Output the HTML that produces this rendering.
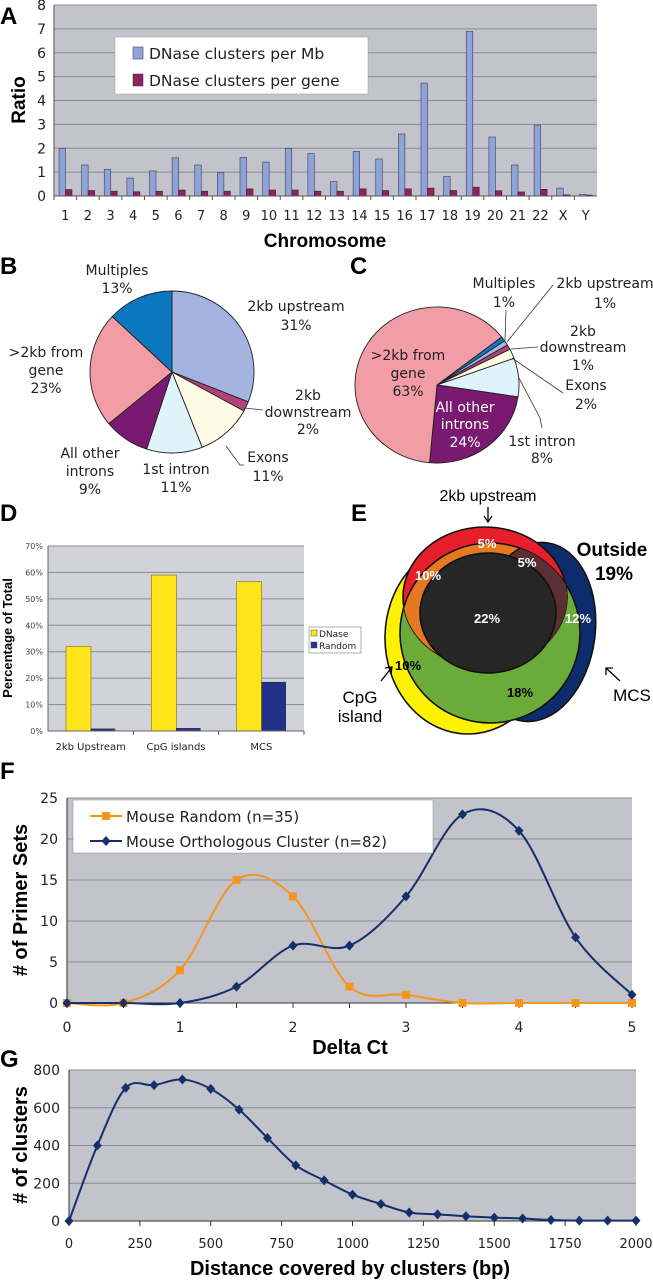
<!DOCTYPE html>
<html><head><meta charset="utf-8">
<style>
html,body{margin:0;padding:0;background:#fff;}
svg{display:block;font-family:"DejaVu Sans","Liberation Sans",sans-serif;}
.pl{font-family:"Liberation Sans",sans-serif;font-weight:bold;font-size:24px;fill:#000;}
.tk{font-size:12px;fill:#222;}
.lab{font-size:14px;fill:#222;}
.ax{font-family:"Liberation Sans",sans-serif;font-weight:bold;fill:#000;}
</style></head>
<body>
<svg id="fig" width="653" height="1280" viewBox="0 0 653 1280" xmlns="http://www.w3.org/2000/svg">
<text class="pl" x="0" y="24">A</text>
<text class="pl" x="0" y="274">B</text>
<text class="pl" x="350" y="274">C</text>
<text class="pl" x="0" y="521">D</text>
<text class="pl" x="351" y="521">E</text>
<text class="pl" x="0" y="779">F</text>
<text class="pl" x="0" y="1067">G</text>

<g id="gA">
<rect x="54" y="5" width="543" height="191" fill="#c3c3cb"/>
</g>
<text class="ax" x="0" y="0" font-size="19" text-anchor="middle" transform="translate(25,100) rotate(-90)">Ratio</text>
<text class="ax" x="325" y="247" font-size="19" text-anchor="middle">Chromosome</text>
<g>
<rect x="115" y="37" width="253" height="57" fill="#fff" stroke="#999" stroke-width="0.5"/>
<rect x="133" y="47" width="10" height="12" fill="#8fa3d6" stroke="#445" stroke-width="0.6"/>
<text x="149" y="59" font-size="15.5" fill="#222">DNase clusters per Mb</text>
<rect x="133" y="74" width="10" height="12" fill="#92215f" stroke="#445" stroke-width="0.6"/>
<text x="149" y="86" font-size="15.5" fill="#222">DNase clusters per gene</text>
</g>

<g id="gB"></g>
<g class="lab" text-anchor="middle">
<text x="117" y="275">Multiples</text>
<text x="117" y="293">13%</text>
<text x="296" y="311">2kb upstream</text>
<text x="296" y="330">31%</text>
<text x="46" y="357">&gt;2kb from</text>
<text x="46" y="375">gene</text>
<text x="46" y="393">23%</text>
<text x="308" y="400">2kb</text>
<text x="308" y="417">downstream</text>
<text x="308" y="434">2%</text>
<text x="268" y="462">Exons</text>
<text x="268" y="481">11%</text>
<text x="176" y="474">1st intron</text>
<text x="176" y="492">11%</text>
<text x="90" y="458">All other</text>
<text x="90" y="476">introns</text>
<text x="90" y="494">9%</text>
</g>
<g stroke="#333" stroke-width="0.8" fill="none">
<path d="M244,408 L263,410"/>
<path d="M226,446 L240,465 L244,465"/>
</g>

<g id="gC"></g>
<g class="lab" text-anchor="middle">
<text x="504" y="288">Multiples</text>
<text x="504" y="307">1%</text>
<text x="605" y="288">2kb upstream</text>
<text x="605" y="308">1%</text>
<text x="583" y="336">2kb</text>
<text x="583" y="352">downstream</text>
<text x="583" y="370">1%</text>
<text x="586" y="390">Exons</text>
<text x="586" y="409">2%</text>
<text x="542" y="446">1st intron</text>
<text x="542" y="463">8%</text>
<text x="408" y="360">&gt;2kb from</text>
<text x="408" y="378">gene</text>
<text x="408" y="396">63%</text>
<text x="465" y="412" fill="#fff">All other</text>
<text x="465" y="429" fill="#fff">introns</text>
<text x="465" y="447" fill="#fff">24%</text>
</g>
<g stroke="#333" stroke-width="0.8" fill="none">
<path d="M506,310 L505,340"/>
<path d="M553,285 L507,342"/>
<path d="M538,347 L511,349"/>
<path d="M563,393 L512,358"/>
<path d="M542,428 L540,418 L519,378"/>
</g>

<g id="gD">
<rect x="48" y="546" width="256" height="185" fill="#d2d3da"/>
</g>
<text class="ax" x="0" y="0" font-size="13" text-anchor="middle" transform="translate(12,638) rotate(-90)">Percentage of Total</text>
<g>
<rect x="309" y="627" width="52" height="26" fill="#fff" stroke="#777" stroke-width="0.6"/>
<rect x="311" y="630" width="6" height="6" fill="#ffe51a" stroke="#444" stroke-width="0.5"/>
<text x="319" y="637" font-size="9" fill="#222">DNase</text>
<rect x="311" y="642" width="6" height="6" fill="#22328a" stroke="#444" stroke-width="0.5"/>
<text x="319" y="649" font-size="9" fill="#222">Random</text>
</g>

<defs>
<clipPath id="cR"><ellipse cx="485" cy="597" rx="82" ry="70"/></clipPath>
<clipPath id="cG"><ellipse cx="490" cy="633" rx="90" ry="90"/></clipPath>
</defs>
<g stroke="#111" stroke-width="1.6">
<ellipse cx="468" cy="638" rx="83" ry="96" fill="#fff200"/>
<ellipse cx="535" cy="632" rx="60" ry="90" transform="rotate(8 535 632)" fill="#0c2c6c"/>
<ellipse cx="490" cy="633" rx="90" ry="90" fill="#6aab3a"/>
<ellipse cx="485" cy="597" rx="82" ry="70" fill="#e61f2a"/>
<g clip-path="url(#cR)"><ellipse cx="490" cy="633" rx="90" ry="90" fill="#e67822"/></g>
<g clip-path="url(#cR)"><g clip-path="url(#cG)"><ellipse cx="535" cy="632" rx="60" ry="90" transform="rotate(8 535 632)" fill="#5b2d34"/></g></g>
<ellipse cx="488" cy="613" rx="68" ry="60" fill="#262626"/>
</g>
<g font-family="Liberation Sans,sans-serif" font-weight="bold" font-size="13" text-anchor="middle">
<text x="487" y="548" fill="#fff">5%</text>
<text x="527" y="567" fill="#fff">5%</text>
<text x="428" y="580" fill="#fff">10%</text>
<text x="487" y="623" fill="#fff">22%</text>
<text x="578" y="623" fill="#fff">12%</text>
<text x="408" y="670" fill="#000">10%</text>
<text x="520" y="697" fill="#000">18%</text>
</g>
<text x="488" y="501" font-family="Liberation Sans,sans-serif" font-size="16" text-anchor="middle" fill="#000">2kb upstream</text>
<g stroke="#000" stroke-width="1.3" fill="none">
<path d="M488,507 L488,522 M484,516 L488,522 L492,516"/>
<path d="M381,681 L392,667 M385,668 L392,667 L391,674"/>
<path d="M620,681 L606,668 M606,675 L606,668 L613,668"/>
</g>
<text x="612" y="556" font-family="Liberation Sans,sans-serif" font-weight="bold" font-size="19" text-anchor="middle">Outside</text>
<text x="614" y="580" font-family="Liberation Sans,sans-serif" font-weight="bold" font-size="19" text-anchor="middle">19%</text>
<text x="360" y="703" font-family="Liberation Sans,sans-serif" font-size="17" text-anchor="middle">CpG</text>
<text x="360" y="722" font-family="Liberation Sans,sans-serif" font-size="17" text-anchor="middle">island</text>
<text x="632" y="701" font-family="Liberation Sans,sans-serif" font-size="17" text-anchor="middle">MCS</text>

<g id="gF">
<rect x="67" y="798" width="565" height="205" fill="#c2c3cb"/>
</g>
<text class="ax" x="0" y="0" font-size="20" text-anchor="middle" transform="translate(27,900) rotate(-90)"># of Primer Sets</text>
<text class="ax" x="350" y="1054" font-size="20" text-anchor="middle">Delta Ct</text>

<g id="gG">
<rect x="69" y="1070" width="567" height="151" fill="#c2c3cb"/>
</g>
<text class="ax" x="0" y="0" font-size="20" text-anchor="middle" transform="translate(27,1145) rotate(-90)"># of clusters</text>
<text class="ax" x="350" y="1275" font-size="20" text-anchor="middle">Distance covered by clusters (bp)</text>
</svg>

<script>
const NS = 'http://www.w3.org/2000/svg';
const chromosomes = ['1','2','3','4','5','6','7','8','9','10','11','12','13','14','15','16','17','18','19','20','21','22','X','Y'];
const clustersPerMb = [2.0,1.3,1.12,0.75,1.05,1.6,1.3,0.97,1.62,1.42,2.0,1.78,0.6,1.87,1.55,2.6,4.73,0.82,6.9,2.47,1.3,2.97,0.33,0.07];
const clustersPerGene = [0.27,0.23,0.2,0.18,0.2,0.25,0.2,0.2,0.3,0.25,0.25,0.2,0.2,0.3,0.23,0.3,0.33,0.23,0.37,0.22,0.17,0.28,0.05,0.04];
const ratioTicks = [0,1,2,3,4,5,6,7,8];
const sliceNames = ['upstream','downstream','exons','intron1','other-introns','far','multiples'];
const sliceColors = ['#a4b3e0','#b0437a','#fffce6','#dff3fb','#791a70','#f29da6','#0b77bf'];
const pieBValues = [31,2,11,11,9,23,13];
const pieCNames = ['multiples','upstream','downstream','exons','intron1','other-introns','far'];
const pieCValues = [1,1,1,2,8,24,63];
const pieCColors = ['#0b77bf','#a4b3e0','#b0437a','#fffce6','#dff3fb','#791a70','#f29da6'];
const dCategories = ['2kb Upstream','CpG islands','MCS'];
const dnaseValues = [32,59,56.5];
const randomValues = [0.8,1,18.5];
const pctTicks = [0,10,20,30,40,50,60,70];
const deltaCt = [0,0.5,1,1.5,2,2.5,3,3.5,4,4.5,5];
const mouseRandom = [0,0,4,15,13,2,1,0,0,0,0];
const mouseOrtho = [0,0,0,2,7,7,13,23,21,8,1];
const fYTicks = [0,5,10,15,20,25];
const fXTicks = [0,1,2,3,4,5];
const distances = [0,100,200,300,400,500,600,700,800,900,1000,1100,1200,1300,1400,1500,1600,1700,1800,1900,2000];
const clusterCounts = [0,400,705,720,750,700,590,440,295,215,140,90,45,35,25,18,13,5,2,2,2];
const gYTicks = [0,200,400,600,800];
const gXTicks = [0,250,500,750,1000,1250,1500,1750,2000];

function el(tag, attrs, parent){const e=document.createElementNS(NS,tag);for(const k in attrs)e.setAttribute(k,attrs[k]);parent.appendChild(e);return e;}

(function(){
  const g=document.getElementById('gA');
  const L=54,R=597,T=5,B=196,n=chromosomes.length,cw=(R-L)/n;
  const y=v=>B-v*(B-T)/8;
  ratioTicks.forEach(t=>{
    const ln=el('line',{x1:L,x2:R,y1:y(t),y2:y(t),stroke:'#8c8c94','stroke-width':1},g);
    
    
    const tx=el('text',{x:L-8,y:y(t)+5,'text-anchor':'end','font-size':14,fill:'#222'},g);
    tx.textContent=t;
    
    
  });
  chromosomes.forEach((c,i)=>{
    const x0=L+i*cw;
    const b1=el('rect',{x:x0+5,y:y(clustersPerMb[i]),width:6.5,height:B-y(clustersPerMb[i]),fill:'#8fa3d6',stroke:'#3a3f5a','stroke-width':0.6},g);
    
    
    const b2=el('rect',{x:x0+11.5,y:y(clustersPerGene[i]),width:6.5,height:B-y(clustersPerGene[i]),fill:'#92215f',stroke:'#3a2030','stroke-width':0.6},g);
    
    
    const tk=el('line',{x1:x0,x2:x0,y1:B,y2:B+4,stroke:'#555'},g);
    
    
    const tx=el('text',{x:x0+cw/2,y:220,'text-anchor':'middle','font-size':13,fill:'#222'},g);
    tx.textContent=c;
    
    
  });
  const ax=el('path',{d:`M${L},${T} L${L},${B} L${R},${B}`,stroke:'#555',fill:'none','stroke-width':1},g);
  
  
})();

function slicePath(cx,cy,rx,ry,a0,a1){
  const r=Math.PI/180;
  const x0=cx+rx*Math.sin(a0*r),y0=cy-ry*Math.cos(a0*r),x1=cx+rx*Math.sin(a1*r),y1=cy-ry*Math.cos(a1*r);
  return `M${cx},${cy} L${x0},${y0} A${rx},${ry} 0 ${(a1-a0)>180?1:0} 1 ${x1},${y1} Z`;
}
function drawPie(gid,values,colors,names,cx,cy,rx,ry,start){
  const g=document.getElementById(gid);
  const tot=values.reduce((a,b)=>a+b,0);let a=start;
  values.forEach((v,i)=>{
    const a1=a+v/tot*360;
    const p=el('path',{d:slicePath(cx,cy,rx,ry,a,a1),fill:colors[i],stroke:'#222','stroke-width':0.9},g);
    
    
    a=a1;
  });
}
drawPie('gB',pieBValues,sliceColors,sliceNames,172,372,82,81,0);
drawPie('gC',pieCValues,pieCColors,pieCNames,437,385,82,78,52);

(function(){
  const g=document.getElementById('gD');
  const L=48,R=304,T=546,B=731,cw=(R-L)/dCategories.length;
  const y=v=>B-v*(B-T)/70;
  pctTicks.forEach(t=>{
    const ln=el('line',{x1:L,x2:R,y1:y(t),y2:y(t),stroke:'#8a8a92','stroke-width':1},g);
    
    
    const tx=el('text',{x:L-5,y:y(t)+3,'text-anchor':'end','font-size':8,fill:'#444'},g);
    tx.textContent=t+'%';
    
    
  });
  dCategories.forEach((c,i)=>{
    const x0=L+i*cw;
    const b1=el('rect',{x:x0+18,y:y(dnaseValues[i]),width:25,height:B-y(dnaseValues[i]),fill:'#ffe51a',stroke:'#8a7a20','stroke-width':0.7},g);
    
    
    const b2=el('rect',{x:x0+43,y:y(randomValues[i]),width:24,height:B-y(randomValues[i]),fill:'#22328a',stroke:'#111','stroke-width':0.4},g);
    
    
    const tx=el('text',{x:x0+cw/2,y:750,'text-anchor':'middle','font-size':10,fill:'#222'},g);
    tx.textContent=c;
    
    
    const tk=el('line',{x1:x0+cw,x2:x0+cw,y1:B,y2:B+4,stroke:'#555'},g);
    
    
  });
  const ax=el('path',{d:`M${L},${T} L${L},${B} L${R},${B}`,stroke:'#666',fill:'none'},g);
  
  
})();

function smooth(pts){
  let d=`M${pts[0][0]},${pts[0][1]}`;
  for(let i=0;i<pts.length-1;i++){
    const p0=pts[Math.max(0,i-1)],p1=pts[i],p2=pts[i+1],p3=pts[Math.min(pts.length-1,i+2)];
    const t=1/6;
    d+=` C${p1[0]+(p2[0]-p0[0])*t},${p1[1]+(p2[1]-p0[1])*t} ${p2[0]-(p3[0]-p1[0])*t},${p2[1]-(p3[1]-p1[1])*t} ${p2[0]},${p2[1]}`;
  }
  return d;
}

(function(){
  const g=document.getElementById('gF');
  const L=67,R=632,T=798,B=1003;
  const x=v=>L+v*(R-L)/5, y=v=>B-v*(B-T)/25;
  fYTicks.forEach(t=>{
    const ln=el('line',{x1:L,x2:R,y1:y(t),y2:y(t),stroke:'#8c8c94'},g);
    
    
    const tx=el('text',{x:L-9,y:y(t)+5,'text-anchor':'end','font-size':14,fill:'#222'},g);
    tx.textContent=t;
    
    
  });
  fXTicks.forEach(t=>{
    const tx=el('text',{x:x(t),y:1032,'text-anchor':'middle','font-size':14,fill:'#222'},g);
    tx.textContent=t;
    
    
  });
  deltaCt.forEach(t=>{
    const tk=el('line',{x1:x(t),x2:x(t),y1:B,y2:B+5,stroke:'#333'},g);
    
    
  });
  const ax=el('path',{d:`M${L},${T} L${L},${B} L${R},${B}`,stroke:'#333',fill:'none'},g);
  
  
  const pr=deltaCt.map((d,i)=>[x(d),y(mouseRandom[i])]);
  const po=deltaCt.map((d,i)=>[x(d),y(mouseOrtho[i])]);
  const l1=el('path',{d:smooth(pr),stroke:'#f7941d',fill:'none','stroke-width':2},g);
  
  
  const l2=el('path',{d:smooth(po),stroke:'#13306b',fill:'none','stroke-width':2},g);
  
  
  pr.forEach(p=>{
    const m=el('rect',{x:p[0]-4,y:p[1]-4,width:8,height:8,fill:'#f7941d'},g);
    
    
  });
  po.forEach(p=>{
    const m=el('path',{d:`M${p[0]},${p[1]-5} L${p[0]+4.5},${p[1]} L${p[0]},${p[1]+5} L${p[0]-4.5},${p[1]} Z`,fill:'#13306b'},g);
    
    
  });
  const lb=el('rect',{x:73,y:800,width:360,height:53,fill:'#fff',stroke:'#888','stroke-width':0.5},g);
  
  
  const s1=el('path',{d:'M90,816 L122,816',stroke:'#f7941d','stroke-width':2},g);
  
  
  const s1m=el('rect',{x:102,y:812,width:8,height:8,fill:'#f7941d'},g);
  
  
  const t1=el('text',{x:126,y:822,'font-size':15,fill:'#222'},g);
  t1.textContent='Mouse Random (n=35)';
  
  
  const s2=el('path',{d:'M90,841 L122,841',stroke:'#13306b','stroke-width':2},g);
  
  
  const s2m=el('path',{d:'M106,836 L110.5,841 L106,846 L101.5,841 Z',fill:'#13306b'},g);
  
  
  const t2=el('text',{x:126,y:847,'font-size':15,fill:'#222'},g);
  t2.textContent='Mouse Orthologous Cluster (n=82)';
  
  
})();

(function(){
  const g=document.getElementById('gG');
  const L=69,R=636,T=1070,B=1221;
  const x=v=>L+v*(R-L)/2000, y=v=>B-v*(B-T)/800;
  gYTicks.forEach(t=>{
    const ln=el('line',{x1:L,x2:R,y1:y(t),y2:y(t),stroke:'#8c8c94'},g);
    
    
    const tx=el('text',{x:L-9,y:y(t)+5,'text-anchor':'end','font-size':14,fill:'#222'},g);
    tx.textContent=t;
    
    
  });
  gXTicks.forEach(t=>{
    const tx=el('text',{x:x(t),y:1248,'text-anchor':'middle','font-size':13,fill:'#222'},g);
    tx.textContent=t;
    
    
    const tk=el('line',{x1:x(t),x2:x(t),y1:B,y2:B+5,stroke:'#333'},g);
    
    
  });
  const ax=el('path',{d:`M${L},${T} L${L},${B} L${R},${B}`,stroke:'#333',fill:'none'},g);
  
  
  const pts=distances.map((d,i)=>[x(d),y(clusterCounts[i])]);
  const ln=el('path',{d:smooth(pts),stroke:'#13306b',fill:'none','stroke-width':2},g);
  
  
  pts.forEach(p=>{
    const m=el('path',{d:`M${p[0]},${p[1]-5} L${p[0]+4.5},${p[1]} L${p[0]},${p[1]+5} L${p[0]-4.5},${p[1]} Z`,fill:'#13306b'},g);
    
    
  });
})();
</script>
</body></html>
